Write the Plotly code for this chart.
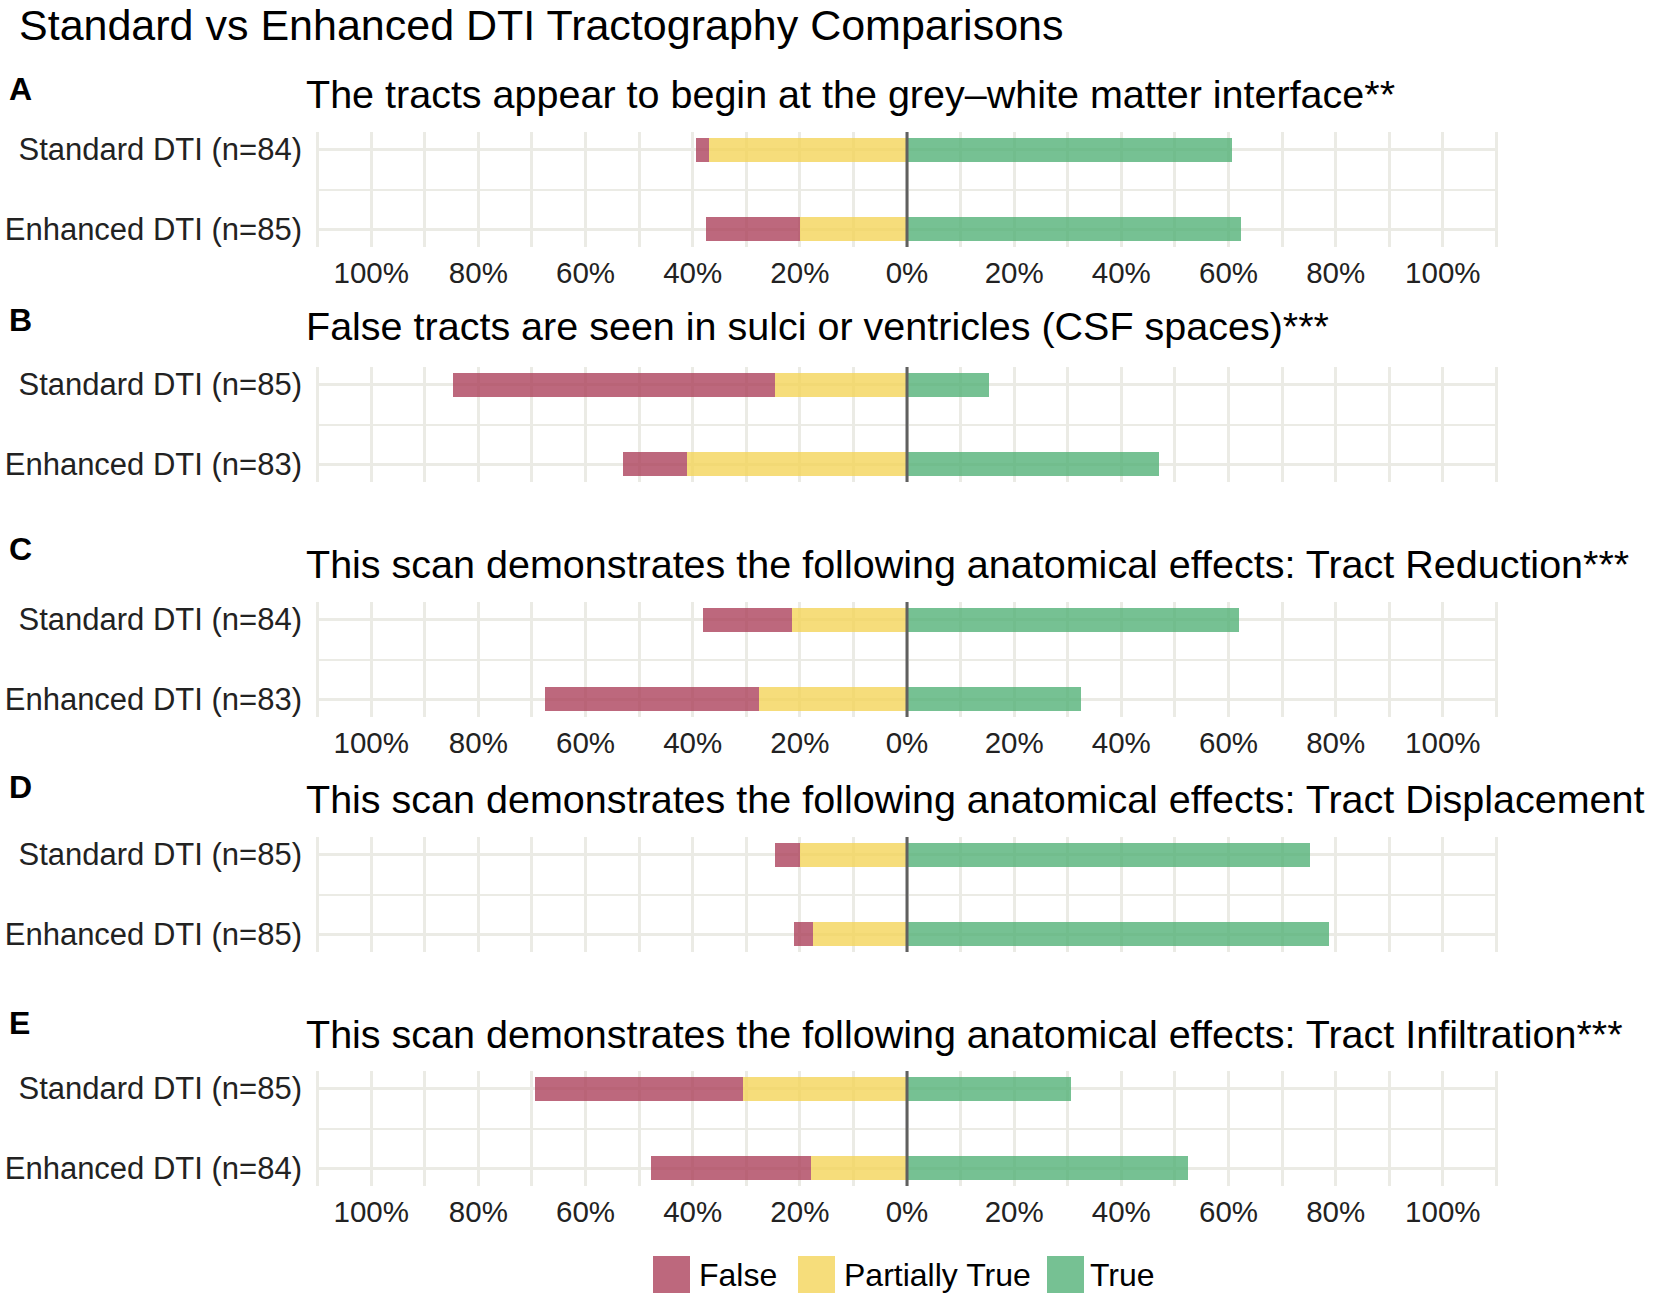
import plotly.graph_objects as go

W, H = 1654, 1298

# ---- data (percent of respondents) ----
LETTERS = ['A', 'B', 'C', 'D', 'E']
QUESTIONS = [
    'The tracts appear to begin at the grey\u2013white matter interface**',
    'False tracts are seen in sulci or ventricles (CSF spaces)***',
    'This scan demonstrates the following anatomical effects: Tract Reduction***',
    'This scan demonstrates the following anatomical effects: Tract Displacement',
    'This scan demonstrates the following anatomical effects: Tract Infiltration***',
]
STANDARD_N = [84, 85, 84, 85, 85]
ENHANCED_N = [85, 83, 83, 85, 84]

FALSE_STD = [2.4, 60.0, 16.7, 4.7, 38.8]
PARTIAL_STD = [36.9, 24.7, 21.4, 20.0, 30.6]
TRUE_STD = [60.7, 15.3, 61.9, 75.3, 30.6]

FALSE_ENH = [17.6, 12.0, 39.8, 3.5, 29.8]
PARTIAL_ENH = [20.0, 41.0, 27.7, 17.6, 17.9]
TRUE_ENH = [62.4, 47.0, 32.5, 78.8, 52.4]

RESPONSES = ['False', 'Partially True', 'True']
COLORS = {'False': '#ab3d59', 'Partially True': '#f3d356', 'True': '#4fb074'}

TICK_VALUES = [-100, -80, -60, -40, -20, 0, 20, 40, 60, 80, 100]
TICK_LABELS = ['100%', '80%', '60%', '40%', '20%', '0%', '20%', '40%', '60%', '80%', '100%']
MINOR_VALUES = [-110, -90, -70, -50, -30, -10, 10, 30, 50, 70, 90, 110]

# ---- layout (pixels in the 1654x1298 window) ----
PLOT_LEFT, PLOT_RIGHT = 316, 1498
PANEL_TOPS = [132, 367, 602, 837, 1071]
PANEL_HEIGHT = 115
SHOW_TICKS = [True, False, True, False, True]
LETTER_Y = [89, 320, 549, 787, 1023]
SUBTITLE_Y = [94, 326, 564, 799, 1034]
GRID = '#ebebe5'
FONT = 'Liberation Sans, Arial, sans-serif'


def fx(p):
    return p / W


def fy(p):
    return 1 - p / H


fig = go.Figure()
annotations = []
shapes = []

for i in range(5):
    sfx = '' if i == 0 else str(i + 1)
    xa, ya = 'x' + sfx, 'y' + sfx
    # negative side stacks partial first (next to 0), then false further out
    series = [
        ('Partially True', [-PARTIAL_STD[i], -PARTIAL_ENH[i]]),
        ('False', [-FALSE_STD[i], -FALSE_ENH[i]]),
        ('True', [TRUE_STD[i], TRUE_ENH[i]]),
    ]
    for name, vals in series:
        fig.add_trace(go.Bar(
            y=[2, 1], x=vals, orientation='h', width=0.3, name=name,
            marker=dict(color=COLORS[name], opacity=0.78, line=dict(width=0)),
            xaxis=xa, yaxis=ya, showlegend=False,
        ))

    top = PANEL_TOPS[i]
    bottom = top + PANEL_HEIGHT
    fig.layout['xaxis' + sfx] = dict(
        domain=[fx(PLOT_LEFT), fx(PLOT_RIGHT)], anchor=ya,
        range=[-110.3, 110.3], fixedrange=True,
        tickmode='array', tickvals=TICK_VALUES, ticktext=TICK_LABELS,
        showticklabels=SHOW_TICKS[i], ticks='', ticklabelstandoff=5,
        tickfont=dict(size=29.5, color='#222222', family=FONT),
        showgrid=True, gridcolor=GRID, gridwidth=2.5,
        minor=dict(tickmode='array', tickvals=MINOR_VALUES, showgrid=True,
                   gridcolor=GRID, gridwidth=2.5, ticks=''),
        zeroline=False, showline=False,
    )
    fig.layout['yaxis' + sfx] = dict(
        domain=[fy(bottom), fy(top)], anchor=xa,
        range=[0.78, 2.22], fixedrange=True,
        tickmode='array', tickvals=[1, 2],
        ticktext=['Enhanced DTI (n=%d)' % ENHANCED_N[i], 'Standard DTI (n=%d)' % STANDARD_N[i]],
        ticks='', ticklabelstandoff=13,
        tickfont=dict(size=31, color='#222222', family=FONT),
        showgrid=True, gridcolor=GRID, gridwidth=2.5,
        minor=dict(tickmode='array', tickvals=[1.5], showgrid=True,
                   gridcolor=GRID, gridwidth=2, ticks=''),
        zeroline=False, showline=False,
    )
    shapes.append(dict(type='line', xref=xa, yref=ya + ' domain', x0=0, x1=0, y0=0, y1=1,
                       line=dict(color='#606060', width=3), layer='above'))

    annotations.append(dict(text='<b>%s</b>' % LETTERS[i], xref='paper', yref='paper',
                            x=fx(7), y=fy(LETTER_Y[i]), xanchor='left', yanchor='middle',
                            showarrow=False, font=dict(size=32, color='black', family=FONT)))
    annotations.append(dict(text=QUESTIONS[i], xref='paper', yref='paper',
                            x=fx(304), y=fy(SUBTITLE_Y[i]), xanchor='left', yanchor='middle',
                            showarrow=False, font=dict(size=39.5, color='black', family=FONT)))

annotations.append(dict(text='Standard vs Enhanced DTI Tractography Comparisons',
                        xref='paper', yref='paper', x=fx(17), y=fy(25),
                        xanchor='left', yanchor='middle', showarrow=False,
                        font=dict(size=43, color='black', family=FONT)))

# legend drawn as large swatches to match the reference
legend_boxes = [653, 798, 1047]
legend_text_x = [697, 842, 1088]
for name, bx, tx in zip(RESPONSES, legend_boxes, legend_text_x):
    shapes.append(dict(type='rect', xref='paper', yref='paper',
                       x0=fx(bx), x1=fx(bx + 37), y0=fy(1293), y1=fy(1256),
                       fillcolor=COLORS[name], opacity=0.78, line=dict(width=0)))
    annotations.append(dict(text=name, xref='paper', yref='paper', x=fx(tx), y=fy(1275),
                            xanchor='left', yanchor='middle', showarrow=False,
                            font=dict(size=32, color='black', family=FONT)))

fig.update_layout(
    width=W, height=H, barmode='relative', bargap=0,
    margin=dict(l=0, r=0, t=0, b=0),
    paper_bgcolor='white', plot_bgcolor='white',
    annotations=annotations, shapes=shapes,
    font=dict(family=FONT),
)

# drop the default 8px page margin so the figure fills the window exactly
fig.write_html('out.html', config={'displayModeBar': False},
               post_script="document.body.style.margin = '0';")
